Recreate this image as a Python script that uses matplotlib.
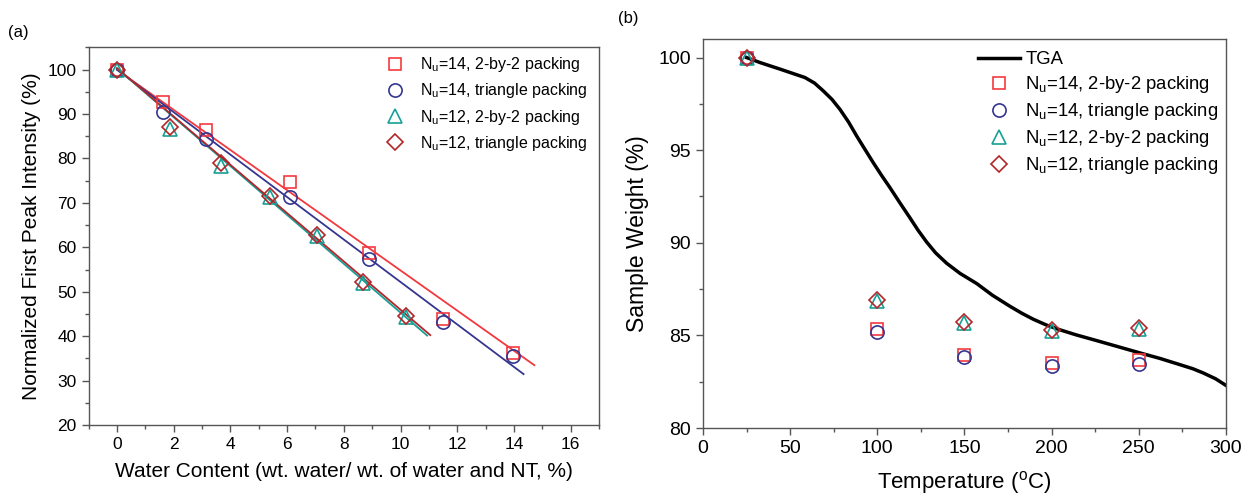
import numpy as np
import matplotlib
matplotlib.use("Agg")
import matplotlib.pyplot as plt
from matplotlib.ticker import MultipleLocator

plt.rcParams['font.family'] = ['Liberation Sans', 'DejaVu Sans']
plt.rcParams['mathtext.fontset'] = 'custom'
plt.rcParams['mathtext.rm'] = 'Liberation Sans'
plt.rcParams['mathtext.it'] = 'Liberation Sans:italic'

# ---- panel (a): first peak intensity vs water content ----
labels = ["N$_{\\rm u}$=14, 2-by-2 packing",
          "N$_{\\rm u}$=14, triangle packing",
          "N$_{\\rm u}$=12, 2-by-2 packing",
          "N$_{\\rm u}$=12, triangle packing"]

water_n14_2x2 = [0, 1.64, 3.14, 6.11, 8.89, 11.49, 13.95]
peak_n14_2x2 = [100, 92.7, 86.4, 74.6, 58.7, 43.9, 36.2]
water_n14_tri = [0, 1.64, 3.14, 6.11, 8.89, 11.49, 13.95]
peak_n14_tri = [100, 90.5, 84.4, 71.4, 57.4, 43.2, 35.6]
water_n12_2x2 = [0, 1.87, 3.67, 5.39, 7.05, 8.67, 10.2]
peak_n12_2x2 = [100, 86.6, 78.3, 71.3, 62.6, 51.9, 44.4]
water_n12_tri = [0, 1.87, 3.67, 5.39, 7.05, 8.67, 10.2]
peak_n12_tri = [100, 87.0, 79.0, 71.6, 62.8, 52.2, 44.6]

# linear fits (intercept, slope, x extent)
fit_intercept = [100.0, 100.0, 100.3, 100.35]
fit_slope = [-4.52, -4.78, -5.50, -5.44]
fit_xmax = [14.72, 14.34, 10.94, 11.05]

# ---- panel (b): sample weight vs temperature ----
temperature = [25, 100, 150, 200, 250]
weight_n14_2x2 = [100, 85.35, 83.96, 83.51, 83.69]
weight_n14_tri = [100, 85.17, 83.82, 83.33, 83.48]
weight_n12_2x2 = [100, 86.85, 85.65, 85.22, 85.32]
weight_n12_tri = [100, 86.90, 85.70, 85.28, 85.38]

tga_temp = [25, 32.7, 45, 58.5, 64, 69, 74, 78.6, 83.5, 88.2, 93, 97.7,
            102.5, 107.3, 113, 118.7, 123.5, 128.3, 133.5, 139.7, 147.4,
            157, 166, 176.1, 183, 189.5, 197, 204.8, 214, 223.9, 237,
            250.8, 262, 273.6, 281, 287, 294, 300]
tga_weight = [100, 99.73, 99.35, 98.92, 98.62, 98.2, 97.74, 97.2, 96.52,
              95.76, 95.03, 94.32, 93.63, 92.97, 92.15, 91.35, 90.66,
              90.04, 89.45, 88.9, 88.35, 87.8, 87.17, 86.57, 86.19, 85.87,
              85.56, 85.3, 85.03, 84.77, 84.42, 84.05, 83.76, 83.42, 83.2,
              82.97, 82.66, 82.3]

colors = ['#F2393E', '#35368F', '#17A096', '#B0262A']
markers = ['s', 'o', '^', 'D']
msizes = [9, 9.5, 10, 8]

fig = plt.figure(figsize=(12.42, 4.97), dpi=100)
axA = fig.add_axes([0.0713, 0.1449, 0.4110, 0.7596])
axB = fig.add_axes([0.5660, 0.1388, 0.4211, 0.7827])

spine_color = '#555555'


def style_axes(ax, tick_size):
    for s in ax.spines.values():
        s.set_color(spine_color)
        s.set_linewidth(1.0)
    ax.tick_params(which='both', direction='out', top=False, right=False,
                   color=spine_color, labelsize=tick_size)
    ax.tick_params(which='major', length=5, width=1.0)
    ax.tick_params(which='minor', length=3, width=1.0)


# panel (a)
series_a = [(water_n14_2x2, peak_n14_2x2), (water_n14_tri, peak_n14_tri),
            (water_n12_2x2, peak_n12_2x2), (water_n12_tri, peak_n12_tri)]
for i in range(4):
    xs = np.linspace(0, fit_xmax[i], 50)
    axA.plot(xs, fit_intercept[i] + fit_slope[i] * xs, color=colors[i], lw=1.3)
for i, (x, y) in enumerate(series_a):
    axA.plot(x, y, linestyle='none', marker=markers[i], ms=msizes[i],
             mfc='none', mec=colors[i], mew=1.2, label=labels[i])

axA.set_xlim(-1, 17)
axA.set_ylim(20, 105)
axA.xaxis.set_major_locator(MultipleLocator(2))
axA.xaxis.set_minor_locator(MultipleLocator(1))
axA.yaxis.set_major_locator(MultipleLocator(10))
axA.yaxis.set_minor_locator(MultipleLocator(5))
style_axes(axA, 12.5)
axA.set_xlabel("Water Content (wt. water/ wt. of water and NT, %)", fontsize=15, labelpad=7)
axA.set_ylabel("Normalized First Peak Intensity (%)", fontsize=15, labelpad=5)
axA.legend(loc='upper right', bbox_to_anchor=(0.992, 1.0), frameon=False,
           fontsize=11.5, handlelength=1.0, handletextpad=1.05,
           labelspacing=0.44, borderaxespad=0.1, borderpad=0.4)

# panel (b)
axB.plot(tga_temp, tga_weight, color='black', lw=2.5, label='TGA')
series_b = [weight_n14_2x2, weight_n14_tri, weight_n12_2x2, weight_n12_tri]
for i, w in enumerate(series_b):
    axB.plot(temperature, w, linestyle='none', marker=markers[i], ms=msizes[i],
             mfc='none', mec=colors[i], mew=1.2, label=labels[i])

axB.set_xlim(0, 300)
axB.set_ylim(80, 101)
axB.xaxis.set_major_locator(MultipleLocator(50))
axB.xaxis.set_minor_locator(MultipleLocator(25))
axB.yaxis.set_major_locator(MultipleLocator(5))
axB.yaxis.set_minor_locator(MultipleLocator(2.5))
style_axes(axB, 14)
axB.set_xlabel("Temperature ($^{\\rm o}$C)", fontsize=16, labelpad=9)
axB.set_ylabel("Sample Weight (%)", fontsize=16.5, labelpad=7)
axB.legend(loc='upper right', bbox_to_anchor=(1.009, 1.0), frameon=False,
           fontsize=13.3, handlelength=2.3, handletextpad=0.27,
           labelspacing=0.33, borderaxespad=0.2, borderpad=0.45)

fig.text(18 / 1242, 1 - 32 / 497, "(a)", fontsize=12, va='center', ha='center')
fig.text(628 / 1242, 1 - 18 / 497, "(b)", fontsize=12, va='center', ha='center')

fig.savefig("out.png", dpi=100)
